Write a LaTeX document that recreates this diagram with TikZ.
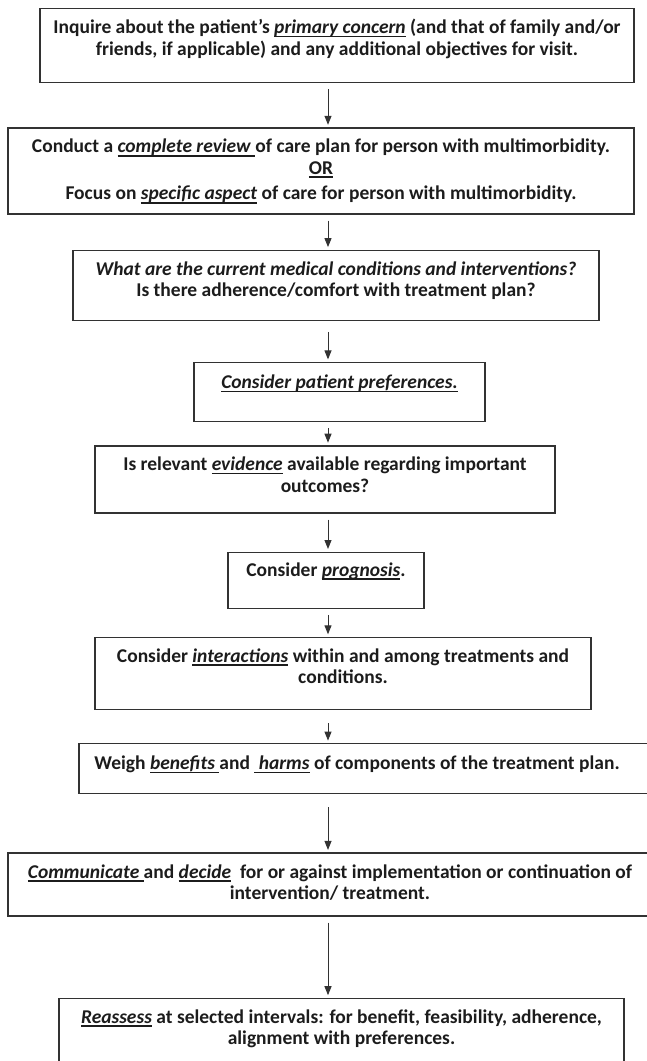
\documentclass[tikz,border=0pt]{standalone}
\usepackage{fontspec}
\setmainfont{Carlito}
\usetikzlibrary{arrows.meta, positioning}
\definecolor{boxline}{RGB}{50,50,50}
\definecolor{inktext}{RGB}{28,28,28}
% underlined piece of text (thick rule, as in the source)
\newcommand{\ulbox}[1]{\leavevmode\setbox0\hbox{#1}\rlap{\vrule width\wd0 height -2pt depth 3.6pt}\box0\relax}
% text block hung from the top of a box: width, height, first baseline, text
\newcommand{\flowtext}[4]{\parbox[c][#2][t]{#1}{\centering\rule{0pt}{#3}#4}}

\begin{document}
\begin{tikzpicture}[
    x=1pt, y=-1pt,
    box/.style={
      rectangle,
      draw=boxline,
      line width=1.3pt,
      inner sep=0pt,
      fill=white,
      text=inktext,
      font=\fontsize{19.5}{21.5}\selectfont\bfseries
    },
    arrow/.style={-{Triangle[width=7pt,length=9pt]}, line width=1pt, draw=boxline,
      shorten <=6pt, shorten >=2.5pt}
]
\useasboundingbox (0,0) rectangle (647,1061);
\clip (0,0) rectangle (647,1061);
\coordinate (axis) at (328,0);

\node[box, anchor=north] (concern) at (337,8)
  {\flowtext{594pt}{74pt}{25pt}{Inquire about the patient's \ulbox{\textit{primary concern}} (and that of family and/or\\
   friends, if applicable) and any additional objectives for visit.}};
\node[box, below=44pt of concern, xshift=-16pt] (review)
  {\flowtext{626pt}{86pt}{25pt}{Conduct a \ulbox{\textit{complete review }}of care plan for person with multimorbidity.\\
   \ulbox{OR}\\[4pt]
   Focus on \ulbox{\textit{specific aspect}} of care for person with multimorbidity.}};
\node[box, below=35pt of review, xshift=15pt] (current)
  {\flowtext{526pt}{70pt}{25pt}{\textit{What are the current medical conditions and interventions?}\\
   Is there adherence/comfort with treatment plan?}};
\node[box, below=41pt of current, xshift=3.5pt] (prefs)
  {\flowtext{291pt}{59pt}{26pt}{\ulbox{\textit{Consider patient preferences.}}}};
\node[box, below=23pt of prefs, xshift=-14.5pt] (evidence)
  {\flowtext{460pt}{67pt}{25pt}{Is relevant \ulbox{\textit{evidence}} available regarding important\\
   outcomes?}};
\node[box, below=38pt of evidence, xshift=1pt] (prognosis)
  {\flowtext{196pt}{56pt}{24pt}{Consider \ulbox{\textit{prognosis}}.}};
\node[box, below=28pt of prognosis, xshift=17pt] (interact)
  {\flowtext{496pt}{72pt}{25pt}{Consider \ulbox{\textit{interactions}} within and among treatments and\\
   conditions.}};
\node[box, below=33pt of interact, xshift=22.5pt] (weigh)
  {\flowtext{573pt}{50pt}{26pt}{Weigh \ulbox{\textit{benefits }}and \ulbox{\textit{ harms}} of components of the treatment plan.\hspace*{17pt}}};
\node[box, below=58pt of weigh, xshift=-35.5pt] (decide)
  {\flowtext{644pt}{63pt}{25pt}{\ulbox{\textit{Communicate }}and \ulbox{\textit{decide}}~ for or against implementation or continuation of\\
   intervention/ treatment.}};
\node[box, below=81pt of decide, xshift=11.5pt] (reassess)
  {\flowtext{565pt}{92pt}{25pt}{\ulbox{\textit{Reassess}} at selected intervals: for benefit, feasibility, adherence,\\
   alignment with preferences.}};

\draw[arrow] (concern.south -| axis) -- (review.north -| axis);
\draw[arrow] (review.south -| axis) -- (current.north -| axis);
\draw[arrow, shorten <=11pt] (current.south -| axis) -- (prefs.north -| axis);
\draw[arrow] (prefs.south -| axis) -- (evidence.north -| axis);
\draw[arrow] (evidence.south -| axis) -- (prognosis.north -| axis);
\draw[arrow] (prognosis.south -| axis) -- (interact.north -| axis);
\draw[arrow, shorten <=13pt] (interact.south -| axis) -- (weigh.north -| axis);
\draw[arrow, shorten <=13pt] (weigh.south -| axis) -- (decide.north -| axis);
\draw[arrow] (decide.south -| axis) -- (reassess.north -| axis);
\end{tikzpicture}
\end{document}
